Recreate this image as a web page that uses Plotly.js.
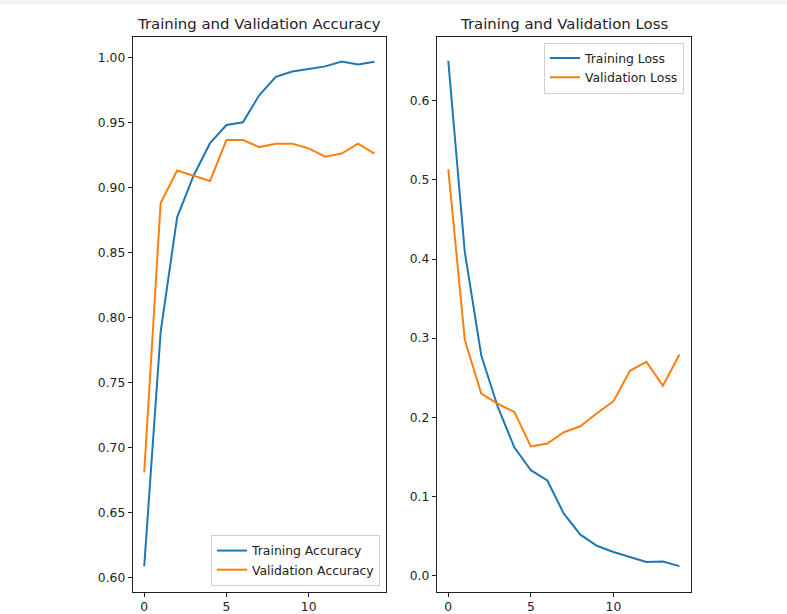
<!DOCTYPE html>
<html>
<head>
<meta charset="utf-8">
<script src="https://cdn.plot.ly/plotly-3.0.1.min.js"></script>
<style>html,body{margin:0;padding:0;background:#fff;}#chart{width:787px;height:614px;}</style>
</head>
<body>
<div id="chart"></div>
<script>
const epochs = [0,1,2,3,4,5,6,7,8,9,10,11,12,13,14];
const trainAcc = [0.609,0.789,0.877,0.909,0.934,0.948,0.950,0.971,0.985,0.989,0.991,0.993,0.9967,0.9944,0.9965];
const valAcc   = [0.681,0.888,0.913,0.909,0.905,0.9364,0.9364,0.931,0.9336,0.9336,0.930,0.9236,0.926,0.9336,0.926];
const trainLoss = [0.6506,0.409,0.278,0.213,0.162,0.133,0.120,0.078,0.0515,0.0375,0.0296,0.023,0.0169,0.0177,0.0118];
const valLoss   = [0.5135,0.298,0.230,0.217,0.2067,0.163,0.1667,0.181,0.1886,0.205,0.220,0.2586,0.270,0.2397,0.2793];
const seriesNames = ["Training Accuracy","Validation Accuracy","Training Loss","Validation Loss"];
const titles = ["Training and Validation Accuracy","Training and Validation Loss"];

const BLUE = "#1f77b4", ORANGE = "#ff7f0e";
const FONT = "DejaVu Sans, sans-serif";
const TXT = "#222";

const traces = [
  {x: epochs, y: trainAcc, name: seriesNames[0], type: "scatter", mode: "lines", line: {color: BLUE, width: 2}, xaxis: "x", yaxis: "y", legend: "legend"},
  {x: epochs, y: valAcc, name: seriesNames[1], type: "scatter", mode: "lines", line: {color: ORANGE, width: 2}, xaxis: "x", yaxis: "y", legend: "legend"},
  {x: epochs, y: trainLoss, name: seriesNames[2], type: "scatter", mode: "lines", line: {color: BLUE, width: 2}, xaxis: "x2", yaxis: "y2", legend: "legend2"},
  {x: epochs, y: valLoss, name: seriesNames[3], type: "scatter", mode: "lines", line: {color: ORANGE, width: 2}, xaxis: "x2", yaxis: "y2", legend: "legend2"}
];

const W = 787, H = 614;
const yDom = [1 - 591.5/H, 1 - 36.7/H];
const axBase = {
  showline: true, mirror: true, linecolor: "#222", linewidth: 1,
  ticks: "outside", ticklen: 4, tickwidth: 1, tickcolor: "#222",
  showgrid: false, zeroline: false,
  tickfont: {family: FONT, size: 12.3, color: TXT}
};

const layout = {
  width: W, height: H,
  margin: {l: 0, r: 0, t: 0, b: 0, autoexpand: false},
  paper_bgcolor: "#fff", plot_bgcolor: "#fff",
  font: {family: FONT, size: 12, color: TXT},
  xaxis: Object.assign({}, axBase, {domain: [132.7/W, 386/W], range: [-0.7, 14.7], tickvals: [0,5,10], anchor: "y"}),
  yaxis: Object.assign({}, axBase, {domain: yDom, range: [0.5896, 1.0158], dtick: 0.05, tick0: 0, tickformat: ".2f", anchor: "x"}),
  xaxis2: Object.assign({}, axBase, {domain: [436.7/W, 691/W], range: [-0.7, 14.7], tickvals: [0,5,10], anchor: "y2"}),
  yaxis2: Object.assign({}, axBase, {domain: yDom, range: [-0.0203, 0.681], dtick: 0.1, tick0: 0, tickformat: ".1f", anchor: "x2"}),
  legend: {
    x: 380/W, y: 1 - 586/H, xanchor: "right", yanchor: "bottom",
    bgcolor: "rgba(255,255,255,0.8)", bordercolor: "#d0d0d0", borderwidth: 1,
    font: {family: FONT, size: 12.4, color: TXT}, tracegroupgap: 0
  },
  legend2: {
    x: 684/W, y: 1 - 42.5/H, xanchor: "right", yanchor: "top",
    bgcolor: "rgba(255,255,255,0.8)", bordercolor: "#d0d0d0", borderwidth: 1,
    font: {family: FONT, size: 12.4, color: TXT}, tracegroupgap: 0
  },
  annotations: [
    {text: titles[0], xref: "paper", yref: "paper", x: (132.7+386)/2/W, y: 1 - 24/H, xanchor: "center", yanchor: "middle", showarrow: false, font: {family: FONT, size: 14.9, color: TXT}},
    {text: titles[1], xref: "paper", yref: "paper", x: (436.7+691)/2/W, y: 1 - 24/H, xanchor: "center", yanchor: "middle", showarrow: false, font: {family: FONT, size: 14.9, color: TXT}}
  ],
  shapes: [
    {type: "rect", xref: "paper", yref: "paper", x0: 0, x1: 1, y0: 1 - 5/H, y1: 1, fillcolor: "#f3f3f3", line: {width: 0}, layer: "below"}
  ],
  showlegend: true
};

Plotly.newPlot("chart", traces, layout, {staticPlot: true, displayModeBar: false});
</script>
</body>
</html>
